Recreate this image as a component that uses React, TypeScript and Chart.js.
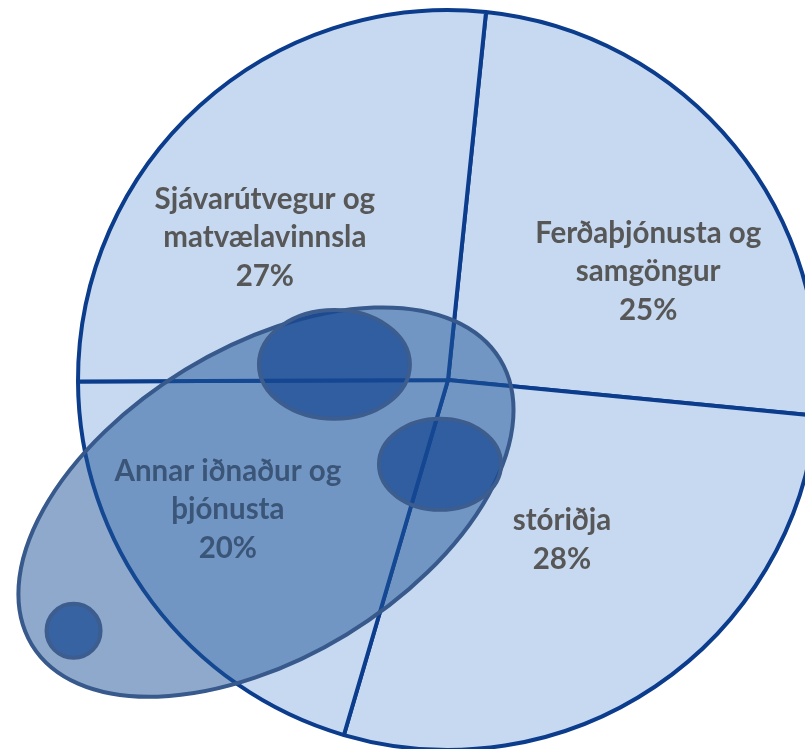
import React, { useEffect, useRef } from "react";
import { Chart, registerables } from "chart.js";

Chart.register(...registerables);

// ---- data ----
const categories = [
  "Ferðaþjónusta og samgöngur",
  "stóriðja",
  "Annar iðnaður og þjónusta",
  "Sjávarútvegur og matvælavinnsla",
];
const categoryLines = [
  ["Ferðaþjónusta og", "samgöngur"],
  ["stóriðja"],
  ["Annar iðnaður og", "þjónusta"],
  ["Sjávarútvegur og", "matvælavinnsla"],
];
const shares = [24.9, 28.0, 20.4, 26.7];
const shareLabels = ["25%", "28%", "20%", "27%"];

// ---- layout (fractions of pie radius, relative to pie centre) ----
const labelOffsets = [
  [0.541, -0.292],
  [0.308, 0.432],
  [-0.595, 0.351],
  [-0.495, -0.384],
];
// overlay ellipses: [dx, dy, rx, ry, rotationDeg]
const bigEllipse = [-0.492, 0.33, 0.741, 0.419, -31.4];
const smallEllipses = [
  [-0.307, -0.042, 0.204, 0.147, 0],
  [-0.0216, 0.228, 0.165, 0.123, 0],
  [-1.012, 0.678, 0.073, 0.073, 0],
];

const overlayPlugin = {
  id: "overlay",
  afterDatasetsDraw(chart: any) {
    const ctx = chart.ctx as CanvasRenderingContext2D;
    const meta = chart.getDatasetMeta(0);
    const arc = meta.data[0] as any;
    if (!arc) return;
    const cx = arc.x;
    const cy = arc.y;
    const R = arc.outerRadius;
    ctx.save();
    // labels
    const fontSize = 29.5;
    const lineH = 38.5;
    ctx.font = `bold ${fontSize}px Lato, "Liberation Sans", sans-serif`;
    ctx.fillStyle = "#575757";
    ctx.textAlign = "center";
    ctx.textBaseline = "middle";
    categoryLines.forEach((lines, i) => {
      const all = [...lines, shareLabels[i]];
      const [ox, oy] = labelOffsets[i];
      const x = cx + ox * R;
      const y0 = cy + oy * R - ((all.length - 1) * lineH) / 2;
      all.forEach((t, j) => ctx.fillText(t, x, y0 + j * lineH));
    });
    const drawEll = (e: number[], fill: string, stroke: string, lw: number) => {
      ctx.beginPath();
      ctx.ellipse(cx + e[0] * R, cy + e[1] * R, e[2] * R, e[3] * R, (e[4] * Math.PI) / 180, 0, Math.PI * 2);
      ctx.fillStyle = fill;
      ctx.fill();
      ctx.lineWidth = lw;
      ctx.strokeStyle = stroke;
      ctx.stroke();
    };
    drawEll(bigEllipse, "rgba(30,84,152,0.5)", "#38598b", 4);
    smallEllipses.forEach((e) => drawEll(e, "rgba(20,70,145,0.7)", "#3c5d8e", 4));
    ctx.restore();
  },
};

export default function App() {
  const ref = useRef<HTMLCanvasElement | null>(null);
  useEffect(() => {
    if (!ref.current) return;
    const chart = new Chart(ref.current, {
      type: "pie",
      data: {
        labels: categories,
        datasets: [
          {
            data: shares,
            backgroundColor: "#c6d9f1",
            borderColor: "#0c3c8c",
            borderWidth: 4,
            radius: 370,
          } as any,
        ],
      },
      options: {
        animation: false,
        responsive: false,
        devicePixelRatio: 1,
        rotation: 5.9,
        layout: { padding: { left: 78, right: 82, top: 10, bottom: 10 } },
        plugins: {
          legend: { display: false },
          tooltip: { enabled: false },
        },
        events: [],
      },
      plugins: [overlayPlugin],
    });
    return () => chart.destroy();
  }, []);
  return (
    <div
      style={{
        position: "fixed",
        left: 0,
        top: 0,
        width: 805,
        height: 749,
        overflow: "hidden",
        background: "#fff",
      }}
    >
      <canvas ref={ref} width={900} height={760} style={{ display: "block" }} />
    </div>
  );
}
